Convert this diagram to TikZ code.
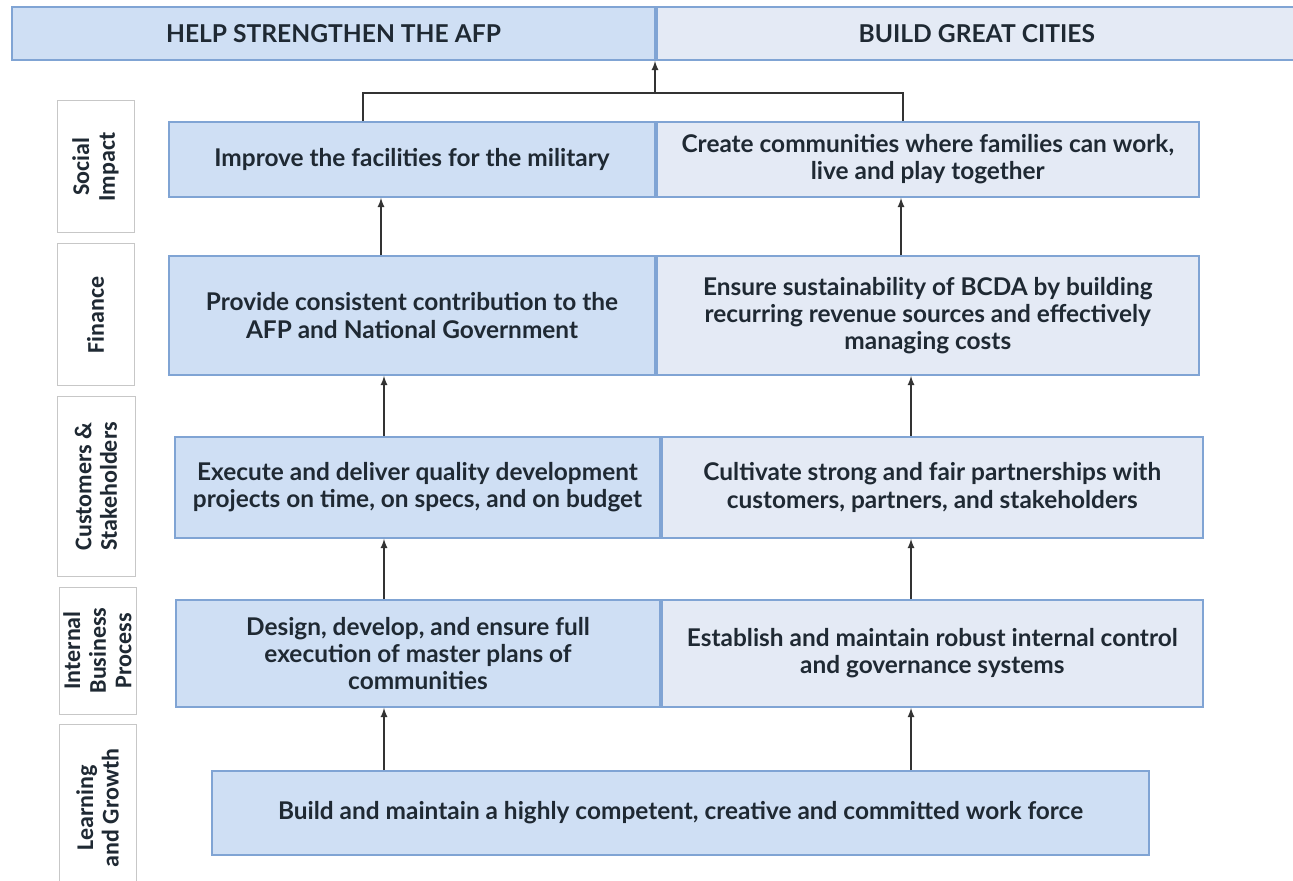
\documentclass[tikz,border=0pt]{standalone}
\usepackage{fontspec}
\setmainfont{Lato}
\newfontfamily\perspfont{Carlito}
\usetikzlibrary{positioning}
\definecolor{leftblue}{HTML}{CFDFF4}
\definecolor{rightblue}{HTML}{E4EAF5}
\definecolor{edgeblue}{HTML}{80A4D4}
\definecolor{inkdark}{HTML}{1F2933}
\tikzset{
  goal/.style={draw=edgeblue, line width=0.9pt, text=inkdark, align=center,
    inner sep=0pt, font=\bfseries\fontsize{12.2}{13.6}\selectfont},
  leftgoal/.style={goal, fill=leftblue},
  rightgoal/.style={goal, fill=rightblue},
  banner/.style={goal, font=\bfseries\fontsize{12.3}{14}\selectfont},
  persp/.style={draw=black!22, line width=0.5pt, fill=white, rotate=90, align=center,
    inner sep=0pt, text=inkdark, font=\perspfont\bfseries\fontsize{12}{12.8}\selectfont},
  >=latex
}
\begin{document}
\begin{tikzpicture}[x=0.5pt, y=-0.5pt]
  \useasboundingbox (0,0) rectangle (1293,881);

  % the two aims
  \node (aimL) [banner, fill=leftblue, minimum width=321.5pt, minimum height=26.5pt] at (333.5,33.5) {HELP STRENGTHEN THE AFP};
  \node (aimR) [banner, fill=rightblue, minimum width=320pt, minimum height=26.5pt, anchor=west] at (aimL.east) {BUILD GREAT CITIES};

  % perspectives
  \node (social) [persp, minimum width=66pt, minimum height=38.5pt] at (95.5,167) {Social\\Impact};
  \node (finance) [persp, minimum width=71pt, minimum height=38.5pt] at (95.5,315) {Finance};
  \node (cust) [persp, minimum width=89.5pt, minimum height=39pt] at (96,486.5) {Customers \&\\Stakeholders};
  \node (proc) [persp, minimum width=63.5pt, minimum height=38.5pt] at (97.5,650.5) {Internal\\Business\\Process};
  \node (learn) [persp, minimum width=84pt, minimum height=38.5pt] at (97.5,808) {Learning\\and Growth};

  % objectives
  \node (l1) [leftgoal, minimum width=243pt, minimum height=37.5pt] at (412,159.5) {Improve the facilities for the military};
  \node (r1) [rightgoal, minimum width=271pt, minimum height=37.5pt, anchor=west] at (l1.east) {Create communities where families can work,\\live and play together};

  \node (l2) [leftgoal, minimum width=243pt, minimum height=59.5pt] at (412,315.5) {Provide consistent contribution to the\\AFP and National Government};
  \node (r2) [rightgoal, minimum width=271pt, minimum height=59.5pt, anchor=west] at (l2.east) {Ensure sustainability of BCDA by building\\recurring revenue sources and effectively\\managing costs};

  \node (l3) [leftgoal, minimum width=242.5pt, minimum height=50.5pt] at (417.5,487.5) {Execute and deliver quality development\\projects on time, on specs, and on budget};
  \node (r3) [rightgoal, minimum width=270.5pt, minimum height=50.5pt, anchor=west] at (l3.east) {Cultivate strong and fair partnerships with\\customers, partners, and stakeholders};

  \node (l4) [leftgoal, minimum width=242pt, minimum height=53.5pt] at (418,653.5) {Design, develop, and ensure full\\execution of master plans of\\communities};
  \node (r4) [rightgoal, minimum width=270.5pt, minimum height=53.5pt, anchor=west] at (l4.east) {Establish and maintain robust internal control\\and governance systems};

  \node (l5) [leftgoal, minimum width=468.5pt, minimum height=42pt] at (680.5,813) {Build and maintain a highly competent, creative and committed work force};

  % connectors
  \coordinate (joinL) at (363,93);
  \coordinate (joinR) at (903,93);
  \coordinate (join) at (655,93);
  \coordinate (xa) at (381,0);
  \coordinate (xb) at (901,0);
  \coordinate (xc) at (384,0);
  \coordinate (xd) at (911,0);
  \draw[line width=0.6pt, black!80] (l1.north -| joinL) -- (joinL) -- (joinR) -- (r1.north -| joinR);
  \path[->, line width=0.6pt, black!80]
    (join) edge (join |- aimL.south)
    (l2.north -| xa) edge (l1.south -| xa)
    (r2.north -| xb) edge (r1.south -| xb)
    (l3.north -| xc) edge (l2.south -| xc)
    (r3.north -| xd) edge (r2.south -| xd)
    (l4.north -| xc) edge (l3.south -| xc)
    (r4.north -| xd) edge (r3.south -| xd)
    (l5.north -| xc) edge (l4.south -| xc)
    (l5.north -| xd) edge (r4.south -| xd)
    ;
\end{tikzpicture}
\end{document}
